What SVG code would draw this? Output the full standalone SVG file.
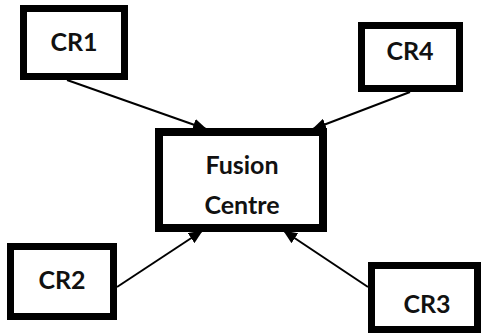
<svg xmlns="http://www.w3.org/2000/svg" width="482" height="335" viewBox="0 0 482 335">
  <style>
    .box { fill: #ffffff; stroke: #000000; stroke-width: 7; }
    .lbl { font-family: Lato, "Open Sans", "Liberation Sans", sans-serif; font-weight: 700; font-size: 25px; fill: #111111; text-anchor: middle; }
    .edge { stroke: #000000; stroke-width: 2; fill: none; marker-end: url(#head); }
  </style>
  <defs>
    <marker id="head" markerUnits="userSpaceOnUse" markerWidth="14" markerHeight="12" refX="13" refY="6" orient="auto">
      <path d="M0,0 L14,6 L0,12 Z" fill="#000000"/>
    </marker>
  </defs>
  <rect width="482" height="335" fill="#ffffff"/>

  <g id="connectors">
    <line class="edge" x1="67" y1="80" x2="206" y2="129"/>
    <line class="edge" x1="410" y1="92" x2="313" y2="129"/>
    <line class="edge" x1="117" y1="287" x2="202" y2="231"/>
    <line class="edge" x1="368" y1="287" x2="284" y2="231"/>
  </g>

  <g id="cr1">
    <rect class="box" x="23.5" y="8.5" width="101" height="68"/>
    <text class="lbl" x="74" y="51">CR1</text>
  </g>
  <g id="cr4">
    <rect class="box" x="361.5" y="25.5" width="98" height="63"/>
    <text class="lbl" x="410" y="60">CR4</text>
  </g>
  <g id="fusion-centre">
    <rect class="box" x="159" y="132" width="164" height="96" style="stroke-width:8"/>
    <text class="lbl" x="242" y="174">Fusion</text>
    <text class="lbl" x="242" y="214">Centre</text>
  </g>
  <g id="cr2">
    <rect class="box" x="10.5" y="246.5" width="103" height="70"/>
    <text class="lbl" x="62" y="289">CR2</text>
  </g>
  <g id="cr3">
    <rect class="box" x="371.5" y="265.5" width="106" height="64"/>
    <text class="lbl" x="427" y="313">CR3</text>
  </g>
</svg>
